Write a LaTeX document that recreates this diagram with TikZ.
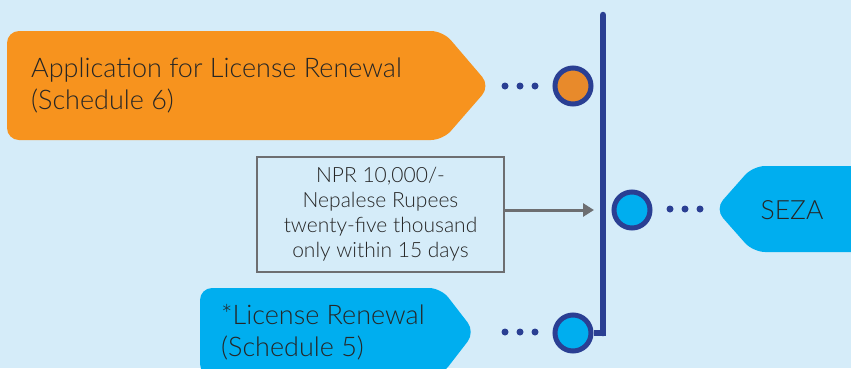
\documentclass[tikz,border=0pt]{standalone}
\usepackage{fontspec}
\setmainfont{Lato}[UprightFont={* Light}]
\usetikzlibrary{arrows.meta}
\definecolor{bg}{HTML}{D5ECF9}
\definecolor{orng}{HTML}{F7931E}
\definecolor{orngc}{HTML}{E88A2B}
\definecolor{cyanb}{HTML}{00AEEF}
\definecolor{navy}{HTML}{2A3F93}
\definecolor{grayb}{HTML}{6D6E71}
\definecolor{txt}{HTML}{262626}
\tikzset{
  ring/.style={circle, draw=navy, line width=5pt, minimum size=36pt, inner sep=0pt},
  dotn/.style={circle, fill=navy, minimum size=7pt, inner sep=0pt},
  bigtxt/.style={text=txt, font=\fontsize{27}{32}\selectfont, align=left, inner sep=0pt},
  notebox/.style={draw=grayb, line width=2.5pt, minimum width=247pt, minimum height=115pt, inner sep=0pt,
    text=txt, align=center, font=\fontsize{21}{25}\selectfont},
}
\begin{document}
\begin{tikzpicture}[x=1pt,y=-1pt]
\fill[bg] (0,0) rectangle (851,368);
\useasboundingbox (0,0) rectangle (851,368);
\clip (0,0) rectangle (851,368);
% orange shape
\coordinate (otip) at (490,86);
\fill[orng, rounded corners=12pt] (7,31) -- (443,31) -- (otip) -- (443,140) -- (7,140) -- cycle;
\node[bigtxt, anchor=west] (otext) at (31,85) {Application for License Renewal\\(Schedule 6)};
% SEZA shape
\coordinate (stip) at (715,209);
\fill[cyanb, rounded corners=12pt] (870,166) -- (753,166) -- (stip) -- (753,252) -- (870,252);
\node[text=txt, font=\fontsize{26.5}{30}\selectfont, inner sep=0pt] (seza) at (792,210) {SEZA};
% lower blue shape
\coordinate (btip) at (475,332);
\fill[cyanb, rounded corners=12pt] (200,288) -- (441,288) -- (btip) -- (441,376) -- (200,376) -- cycle;
\node[bigtxt, anchor=west] (btext) at (221,332) {*License Renewal\\(Schedule 5)};
% circles
\node[ring, fill=orngc] (c1) at (573,86) {};
\node[ring, fill=cyanb] (c2) at (632,210) {};
\node[ring, fill=cyanb] (c3) at (573,333) {};
% vertical line
\coordinate (ltop) at (603,15);
\coordinate (lbot) at (603,333);
\draw[navy, line width=6.5pt, line cap=round] (ltop) -- (lbot);
\draw[navy, line width=6.5pt] (603,336.25) -- (lbot) -- (c3.east);
% dots
\foreach \x [count=\i] in {505,520,535} {\node[dotn] (da\i) at (\x,86) {};}
\foreach \x [count=\i] in {670,685,700} {\node[dotn] (db\i) at (\x,209) {};}
\foreach \x [count=\i] in {505,520,535} {\node[dotn] (dc\i) at (\x,332) {};}
% note box and arrow
\node[notebox] (note) at (380.5,214.5) {NPR 10,000/-\\Nepalese Rupees\\twenty-five thousand\\only within 15 days};
\coordinate (arrend) at (594,210);
\draw[grayb, line width=3pt, -{Triangle[length=11pt,width=13pt]}] (note.east |- arrend) -- (arrend);
\end{tikzpicture}
\end{document}
